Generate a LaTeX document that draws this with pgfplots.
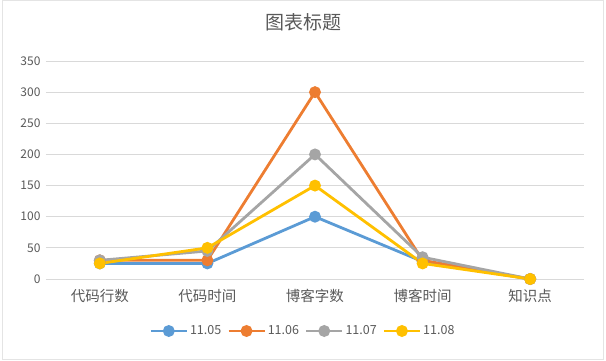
\documentclass[border=0pt]{standalone}
\usepackage{pgfplots}
\pgfplotsset{compat=1.18}
\usepackage{fontspec}
\setmainfont{Noto Sans CJK SC}
\definecolor{c1}{HTML}{5B9BD5}
\definecolor{c2}{HTML}{ED7D31}
\definecolor{c3}{HTML}{A5A5A5}
\definecolor{c4}{HTML}{FFC000}
\definecolor{txt}{HTML}{595959}
\definecolor{grd}{HTML}{D9D9D9}
\begin{document}
\begin{tikzpicture}
\begin{axis}[
  name=ax,
  scale only axis, width=538pt, height=218pt,
  xmin=-0.5, xmax=4.5, ymin=0, ymax=350,
  xtick={0,1,2,3,4},
  xticklabels={代码行数,代码时间,博客字数,博客时间,知识点},
  ytick={0,50,...,350},
  axis line style={draw=none},
  major tick length=0pt,
  ymajorgrids, grid style={grd, line width=0.8pt},
  yticklabel style={txt, font=\fontsize{12}{14}\selectfont, xshift=-2pt},
  xticklabel style={txt, font=\fontsize{14.5}{16}\selectfont, yshift=-7pt},
  /pgf/number format/assume math mode=true,
  legend style={at={(0.4777,-0.2385)}, anchor=center, draw=none, fill=none, legend columns=-1,
    font=\fontsize{12.5}{14}\selectfont, text=txt,
    /tikz/every even column/.append style={column sep=4pt}},
  legend image code/.code={\draw[#1, line width=2.5pt] (0pt,0pt) -- (36pt,0pt); \fill[#1] (18pt,0pt) circle (4.5pt);},
  every axis plot/.append style={line width=2.8pt, mark=*, mark size=4.5pt},
  clip=false,
]
\addplot[c1, mark options={fill=c1,draw=c1}] coordinates {(0,25) (1,25) (2,100) (3,28) (4,0)};
\addplot[c2, mark options={fill=c2,draw=c2}] coordinates {(0,30) (1,30) (2,300) (3,30) (4,0)};
\addplot[c3, mark options={fill=c3,draw=c3}] coordinates {(0,30) (1,45) (2,200) (3,35) (4,0)};
\addplot[c4, mark options={fill=c4,draw=c4}] coordinates {(0,25) (1,50) (2,150) (3,25) (4,0)};
\legend{11.05,11.06,11.07,11.08}
\end{axis}
\coordinate (O) at ([shift={(-46pt,-81pt)}]ax.south west);
\pgfresetboundingbox
\begin{scope}[shift={(O)}, x=1pt, y=1pt]
\path[use as bounding box] (0,0) rectangle (606,360);
\draw[grd!70,line width=0.6pt] (2.5,0.5) rectangle (603.5,359.5);
\node[txt, font=\fontsize{19}{22}\selectfont] at (303,338) {图表标题};
\end{scope}
\end{tikzpicture}
\end{document}
